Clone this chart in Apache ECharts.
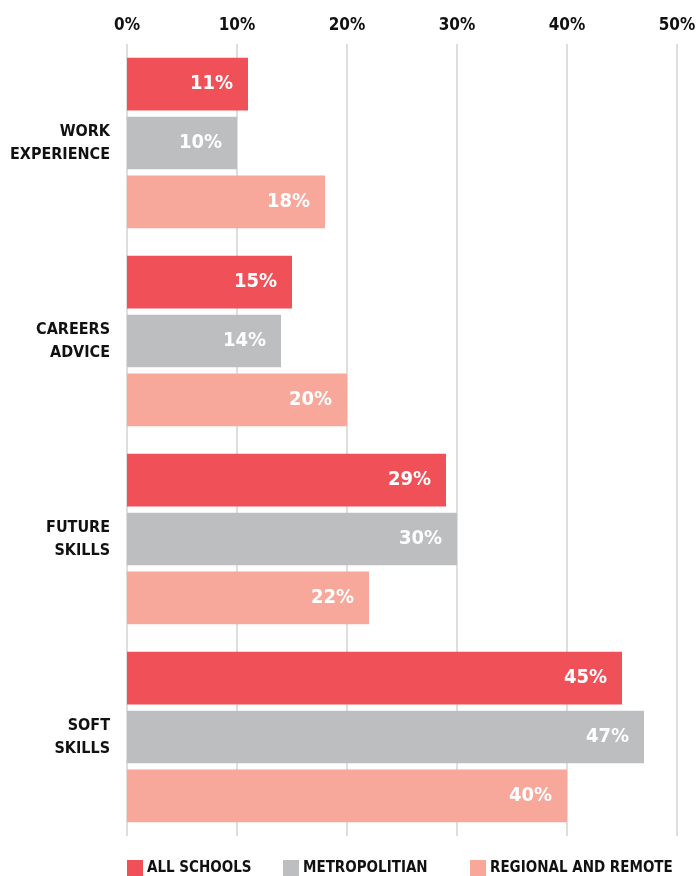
<!DOCTYPE html>
<html><head><meta charset="utf-8">
<script src="https://cdn.jsdelivr.net/npm/echarts@6/dist/echarts.min.js"></script>
<style>html,body{margin:0;padding:0;background:#fff}#c{width:696px;height:876px}</style>
</head><body><div id="c"></div>
<script>
const categories = ['WORK\nEXPERIENCE', 'CAREERS\nADVICE', 'FUTURE\nSKILLS', 'SOFT\nSKILLS'];
const seriesNames = ['ALL SCHOOLS', 'METROPOLITIAN', 'REGIONAL AND REMOTE'];
const allSchools = [11, 15, 29, 45];
const metropolitan = [10, 14, 30, 47];
const regional = [18, 20, 22, 40];
const colors = ['#F05158', '#BDBEC0', '#F8A89B'];
const FONT = '"DejaVu Sans Condensed", "Liberation Sans Narrow", sans-serif';

const chart = echarts.init(document.getElementById('c'));
const mk = (name, data, color) => ({
  name, type: 'bar', data,
  itemStyle: { color },
  barGap: '12%', barCategoryGap: '14%',
  label: { show: true, position: 'insideRight', distance: 15, color: '#fff',
    fontFamily: FONT, fontWeight: 'bold', fontSize: 20, formatter: '{c}%' }
});
const legendCommon = { top: 860, padding: 0, itemWidth: 16, itemHeight: 17, icon: 'rect',
  textStyle: { fontSize: 15, fontWeight: 'bold', fontFamily: FONT, color: '#111', padding: [1,0,0,-1] } };
chart.setOption({
  animation: false,
  textStyle: { fontFamily: FONT },
  grid: { left: 127, right: 19, top: 44, bottom: 40, containLabel: false, outerBoundsMode: 'none' },
  xAxis: { type: 'value', position: 'top', min: 0, max: 50, interval: 10,
    axisLine: { show: false }, axisTick: { show: false },
    splitLine: { lineStyle: { color: '#dedede', width: 2 } },
    axisLabel: { formatter: '{value}%', color: '#111', fontSize: 17, fontFamily: FONT, fontWeight: 'bold', margin: 10 } },
  yAxis: { type: 'category', data: categories, inverse: true,
    axisLine: { show: false }, axisTick: { show: false },
    axisLabel: { color: '#111', fontSize: 16, fontWeight: 'bold', fontFamily: FONT, lineHeight: 23, margin: 17, align: 'right' } },
  legend: [
    Object.assign({ left: 127, data: [seriesNames[0]] }, legendCommon),
    Object.assign({ left: 283, data: [seriesNames[1]] }, legendCommon),
    Object.assign({ left: 470, data: [seriesNames[2]] }, legendCommon)
  ],
  series: [mk(seriesNames[0], allSchools, colors[0]), mk(seriesNames[1], metropolitan, colors[1]), mk(seriesNames[2], regional, colors[2])]
});
</script></body></html>
